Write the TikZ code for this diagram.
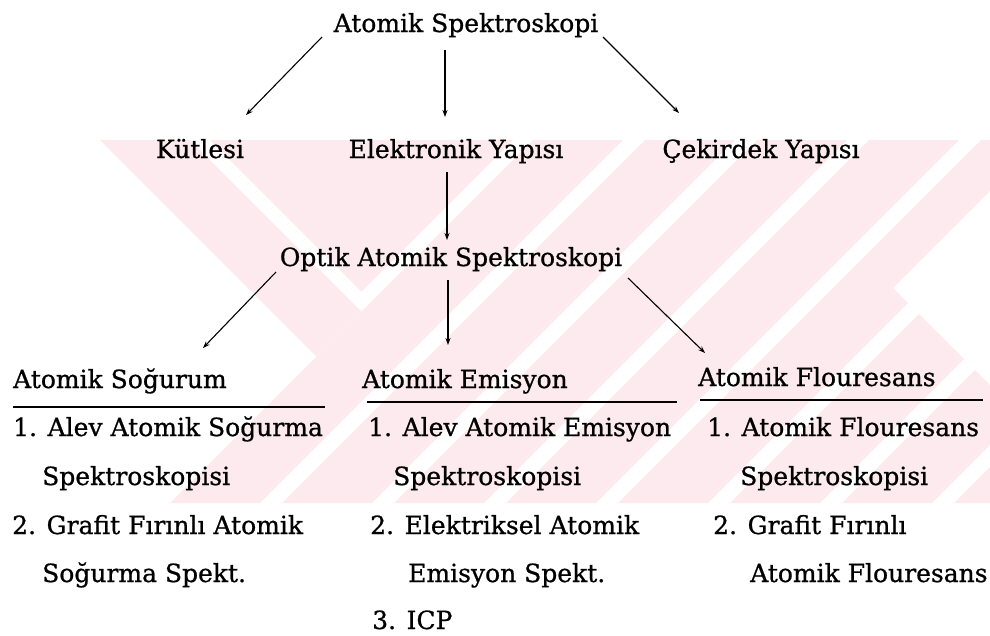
\documentclass[tikz,border=0pt]{standalone}
\usepackage{fontspec}
\setmainfont{DejaVu Serif}
\newfontfamily\wfont[FakeBold=0.8]{DejaVu Serif}
\usetikzlibrary{arrows.meta,calc}
\definecolor{wm}{RGB}{253,234,238}
\begin{document}
\begin{tikzpicture}[x=1pt,y=-1pt,
  lbl/.style={inner sep=0pt, text=black, font=\wfont\fontsize{25}{30}\selectfont},
  arr/.style={-{Stealth[length=7pt,width=5pt]}, line width=1.1pt},
  rule/.style={line width=2pt}]
\useasboundingbox (0,0) rectangle (990,635);
% faint background watermark
\begin{scope}
  \clip (0,140) rectangle (990,503);
  \fill[wm] (100,140)--(190,140)--(361.5,311.5)--(316.5,356.5)--cycle;
  \fill[wm] (210,140)--(513,140)--(361.5,291.5)--cycle;
  \foreach \a in {673,785,897,1009,1121,1233,1345,1457}{
    \fill[wm] ({\a-140},140)--({\a+90-140},140)--({\a+90-503},503)--({\a-503},503)--cycle;
  }
  \fill[white] (893,288)--(1100,81)--(1100,495)--cycle;
\end{scope}
% nodes
\node[lbl,anchor=base] (title) at (466,32) {Atomik Spektroskopi};
\node[lbl,anchor=base] (kut) at (200,158) {Kütlesi};
\node[lbl,anchor=base] (elek) at (456,158) {Elektronik Yapısı};
\node[lbl,anchor=base] (cek) at (761,158) {Çekirdek Yapısı};
\node[lbl,anchor=base] (optik) at (451,266) {Optik Atomik Spektroskopi};
\node[lbl,anchor=base west] (sog) at (13,388) {Atomik Soğurum};
\node[lbl,anchor=base west] (emis) at (362,388) {Atomik Emisyon};
\node[lbl,anchor=base west] (flo) at (698,386) {Atomik Flouresans};
% column 1
\node[lbl,anchor=base west] (s1) at (13,436) {1. Alev Atomik Soğurma};
\node[lbl,anchor=base west] (s1b) at (42,485) {Spektroskopisi};
\node[lbl,anchor=base west] (s2) at (12,534) {2. Grafit Fırınlı Atomik};
\node[lbl,anchor=base west] (s2b) at (42,582) {Soğurma Spekt.};
% column 2
\node[lbl,anchor=base west] (e1) at (368,436) {1. Alev Atomik Emisyon};
\node[lbl,anchor=base west] (e1b) at (393,485) {Spektroskopisi};
\node[lbl,anchor=base west] (e2) at (370,534) {2. Elektriksel Atomik};
\node[lbl,anchor=base west] (e2b) at (408,582) {Emisyon Spekt.};
\node[lbl,anchor=base west] (e3) at (372,629) {3. ICP};
% column 3
\node[lbl,anchor=base west] (f1) at (707,436) {1. Atomik Flouresans};
\node[lbl,anchor=base west] (f1b) at (740,485) {Spektroskopisi};
\node[lbl,anchor=base west] (f2) at (713,534) {2. Grafit Fırınlı};
\node[lbl,anchor=base west] (f2b) at (750,582) {Atomik Flouresans};
% underlines
\draw[rule] ([shift={(0,19)}]sog.base west) -- ++(312,0);
\draw[rule] ([shift={(5,14)}]emis.base west) -- ++(310,0);
\draw[rule] ([shift={(2,14)}]flo.base west) -- ++(283,0);
% connectors
\draw[arr] ([shift={(-144,5)}]title.base) -- ([shift={(46,-43)}]kut.base);
\draw[arr] ([shift={(-21,18)}]title.base) -- ([shift={(-11,-41)}]elek.base);
\draw[arr] ([shift={(137,5)}]title.base) -- ([shift={(-82,-45)}]cek.base);
\draw[arr] ([shift={(-9,14)}]elek.base) -- ([shift={(-4,-26)}]optik.base);
\draw[arr] ([shift={(-175,6)}]optik.base) -- ([shift={(190,-40)}]sog.base west);
\draw[arr] ([shift={(-3,14)}]optik.base) -- ([shift={(86,-43)}]emis.base west);
\draw[arr] ([shift={(177,12)}]optik.base) -- ([shift={(7,-33)}]flo.base west);
\end{tikzpicture}
\end{document}
